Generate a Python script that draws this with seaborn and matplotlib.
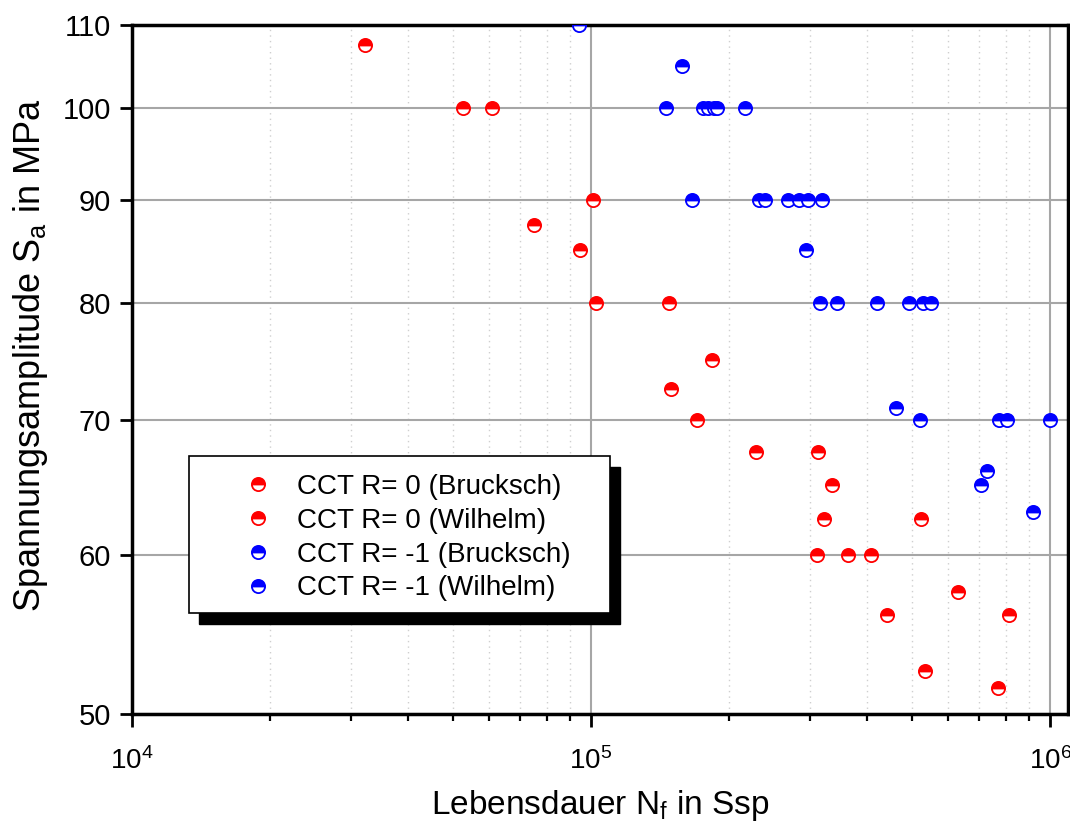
import numpy as np
import pandas as pd
import matplotlib
matplotlib.use("Agg")
import matplotlib.pyplot as plt
import matplotlib.ticker as mticker
from matplotlib.patches import Rectangle
import seaborn as sns

# ---- data ----
r0_bru_N = [32100, 52700, 60700, 75000, 94400, 101000, 102700, 147600, 183000, 149000, 170000]
r0_bru_S = [107.5, 100, 100, 87.5, 85, 90, 80, 80, 75, 72.5, 70]

r0_wil_N = [229000, 312000, 335000, 322000, 310000, 363000, 407000, 441000, 523000,
            630000, 814000, 534000, 771000]
r0_wil_S = [67.5, 67.5, 65, 62.5, 60, 60, 60, 56, 62.5, 57.5, 56, 52.5, 51.5]

rm1_bru_N = [94000, 158000, 146000, 175000, 180000, 185000, 188000, 216000,
             166000, 232000, 239000, 268000, 284000, 297000, 319000, 294000]
rm1_bru_S = [110, 105, 100, 100, 100, 100, 100, 100,
             90, 90, 90, 90, 90, 90, 90, 85]

rm1_wil_N = [315000, 343000, 420000, 492000, 528000, 550000, 461000,
             520000, 774000, 807000, 998000, 729000, 707000, 920000]
rm1_wil_S = [80, 80, 80, 80, 80, 80, 71,
             70, 70, 70, 70, 66, 65, 63]

labels = ["CCT R= 0 (Brucksch)", "CCT R= 0 (Wilhelm)",
          "CCT R= -1 (Brucksch)", "CCT R= -1 (Wilhelm)"]
colors = ["#ff0000", "#ff0000", "#0000ff", "#0000ff"]
series = [(r0_bru_N, r0_bru_S), (r0_wil_N, r0_wil_S),
          (rm1_bru_N, rm1_bru_S), (rm1_wil_N, rm1_wil_S)]

y_ticks = [50, 60, 70, 80, 90, 100, 110]
x_ticks = [1e4, 1e5, 1e6]
x_ticklabels = ["10$^4$", "10$^5$", "10$^6$"]

# ---- style ----
sns.set_style("white")
plt.rcParams["font.family"] = ["Liberation Sans", "DejaVu Sans"]
plt.rcParams["mathtext.fontset"] = "custom"
plt.rcParams["mathtext.rm"] = "Liberation Sans"
plt.rcParams["mathtext.it"] = "Liberation Sans:italic"
plt.rcParams["mathtext.bf"] = "Liberation Sans:bold"
plt.rcParams["text.color"] = "black"
plt.rcParams["axes.labelcolor"] = "black"
plt.rcParams["xtick.color"] = "black"
plt.rcParams["ytick.color"] = "black"

fig = plt.figure(figsize=(10.70, 8.25), dpi=100)
ax = fig.add_axes([132 / 1070, 1 - 714 / 825, 936 / 1070, 689 / 825])
ax.set_xscale("log")
ax.set_yscale("log")

for (xs, ys), lab, col in zip(series, labels, colors):
    df = pd.DataFrame({"N": xs, "S": ys})
    sns.lineplot(data=df, x="N", y="S", ax=ax, estimator=None, sort=False,
                 linestyle="", marker="o", markersize=9.5, fillstyle="top",
                 color=col, markerfacecolor=col, markerfacecoloralt="white",
                 markeredgecolor=col, markeredgewidth=1.3, label=lab, zorder=4)

ax.set_xlim(1e4, 1.094e6)
ax.set_ylim(50, 110)

ax.set_yticks(y_ticks)
ax.yaxis.set_major_formatter(mticker.FixedFormatter([str(v) for v in y_ticks]))
ax.yaxis.set_minor_locator(mticker.NullLocator())
ax.set_xticks(x_ticks)
ax.set_xticklabels(x_ticklabels)
ax.xaxis.set_minor_locator(mticker.LogLocator(base=10, subs=np.arange(2, 10), numticks=20))
ax.xaxis.set_minor_formatter(mticker.NullFormatter())

ax.tick_params(axis="both", which="major", direction="out", length=9, width=2,
               colors="black", pad=6)
ax.tick_params(axis="y", which="major", left=True, labelsize=21)
ax.tick_params(axis="x", which="minor", direction="out", length=5, width=1.6,
               bottom=True)
ax.tick_params(axis="x", which="major", bottom=True, pad=15, labelsize=20)

ax.grid(True, which="major", axis="both", color="#a6a6a6", linewidth=1.5,
        linestyle="-", zorder=1)
ax.grid(True, which="minor", axis="x", color="#cfcfcf", linewidth=1.0,
        linestyle=(0, (1, 3)), zorder=1)
ax.set_axisbelow(True)

for sp in ax.spines.values():
    sp.set_visible(True)
    sp.set_color("black")
    sp.set_linewidth(2.5)

ax.set_xlabel("Lebensdauer N$_\\mathregular{f}$ in Ssp", fontsize=24)
ax.xaxis.set_label_coords(0.5, -0.108)
ax.set_ylabel("Spannungsamplitude S$_\\mathregular{a}$ in MPa", fontsize=26)
ax.yaxis.set_label_coords(-0.088, 0.521)

# legend with a solid black drop shadow
fx0, fy0 = (189 - 132) / 936, (714 - 613) / 689
fw, fh = (610 - 189) / 936, (613 - 456) / 689
sx, sy = 10 / 936, -11 / 689
ax.add_patch(Rectangle((fx0 + sx, fy0 + sy), fw, fh, transform=ax.transAxes,
                       facecolor="black", edgecolor="black", zorder=8, clip_on=False))
ax.add_patch(Rectangle((fx0, fy0), fw, fh, transform=ax.transAxes,
                       facecolor="white", edgecolor="black", linewidth=1.2,
                       zorder=9, clip_on=False))
leg = ax.legend(loc="upper left", bbox_to_anchor=((244 - 132) / 936, (714 - 474) / 689),
                frameon=False, fontsize=20, borderpad=0, borderaxespad=0,
                handlelength=1.0, handletextpad=0.9, labelspacing=0.28,
                numpoints=1)
leg.set_zorder(10)

fig.savefig("out.png", dpi=100)
